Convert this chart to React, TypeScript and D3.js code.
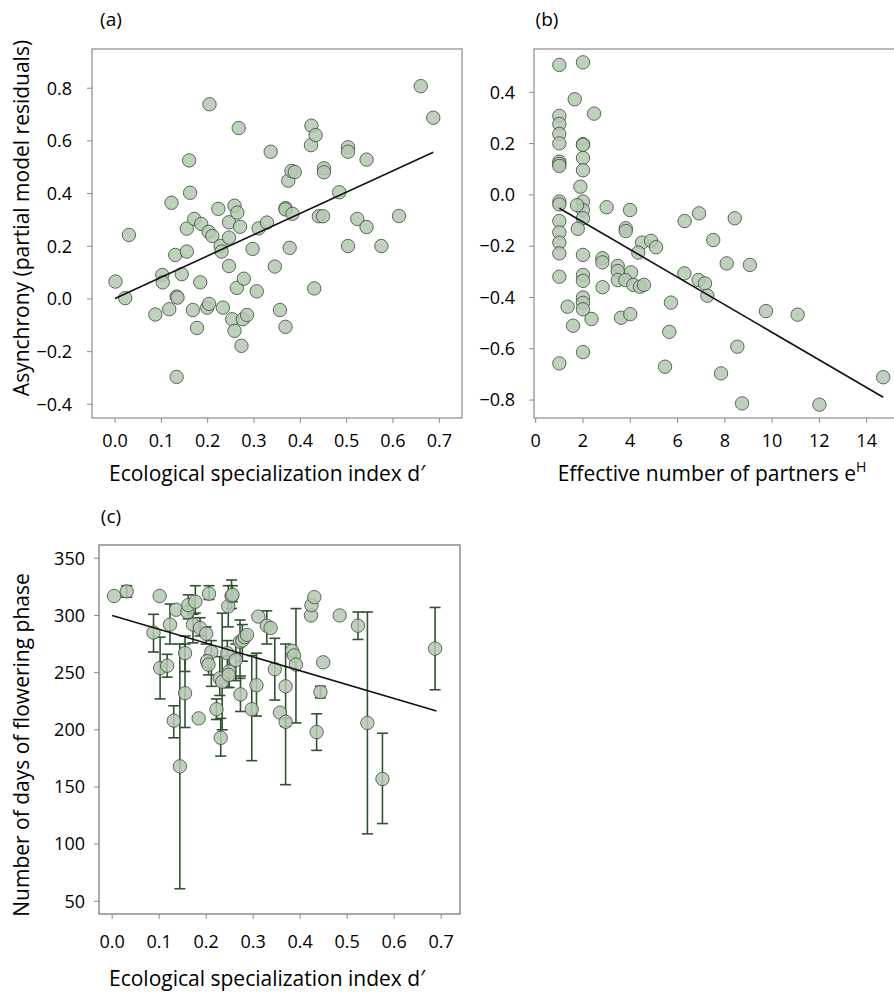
import React from 'react';
import * as d3 from 'd3';

// panel (a): specialization d' vs asynchrony residuals
const aSpec = [0.001, 0.022, 0.030, 0.087, 0.102, 0.103, 0.117, 0.122, 0.130, 0.133, 0.135, 0.133, 0.144, 0.155, 0.155, 0.160, 0.162, 0.168, 0.171, 0.177, 0.184, 0.186, 0.199, 0.203, 0.202, 0.204, 0.210, 0.223, 0.228, 0.230, 0.233, 0.246, 0.246, 0.246, 0.253, 0.258, 0.258, 0.263, 0.264, 0.267, 0.270, 0.273, 0.276, 0.278, 0.285, 0.297, 0.306, 0.310, 0.328, 0.336, 0.345, 0.356, 0.368, 0.368, 0.368, 0.374, 0.377, 0.381, 0.383, 0.388, 0.423, 0.424, 0.430, 0.433, 0.440, 0.449, 0.451, 0.451, 0.484, 0.503, 0.503, 0.503, 0.523, 0.543, 0.543, 0.575, 0.613, 0.660, 0.687];
const aAsync = [0.066, 0.003, 0.243, -0.059, 0.091, 0.063, -0.039, 0.365, 0.167, 0.009, 0.005, -0.296, 0.094, 0.180, 0.267, 0.526, 0.403, -0.042, 0.304, -0.110, 0.063, 0.285, -0.033, -0.019, 0.255, 0.739, 0.239, 0.342, 0.201, 0.180, -0.033, 0.125, 0.233, 0.291, -0.077, 0.354, -0.121, 0.042, 0.328, 0.649, 0.274, -0.178, -0.077, 0.077, -0.061, 0.190, 0.029, 0.268, 0.290, 0.559, 0.123, -0.042, 0.345, -0.106, 0.340, 0.449, 0.194, 0.486, 0.323, 0.482, 0.584, 0.658, 0.040, 0.622, 0.314, 0.314, 0.496, 0.481, 0.405, 0.576, 0.559, 0.201, 0.304, 0.529, 0.273, 0.201, 0.315, 0.808, 0.688];
const aFitX = [0, 0.687];
const aFitY = [0.002, 0.557];

// panel (b): effective number of partners vs asynchrony residuals
const bPartners = [1, 1, 1, 1, 1, 1, 1, 1, 1, 1, 1, 1, 1, 1, 1, 1,
  2, 2, 2, 2, 2, 2, 2, 2, 2, 2, 2, 2, 2, 2, 2,
  1.89, 1.75, 1.78, 1.65, 2.47, 3.0, 3.99, 3.81, 3.81, 6.30, 6.91, 8.42, 7.51, 4.50, 4.88, 5.09, 4.34, 2.82, 2.82, 3.47, 3.47, 3.47, 4.03, 3.79, 4.13, 4.41, 4.58, 2.83, 6.29, 6.89, 7.16, 7.26, 8.08, 9.06, 5.72, 5.65, 3.61, 4.00, 1.35, 1.58, 2.36, 9.74, 11.08, 8.53, 5.47, 7.84, 8.73, 12.0, 14.7];
const bAsync = [0.507, 0.308, 0.277, 0.238, 0.201, 0.130, 0.121, 0.113, -0.026, -0.037, -0.102, -0.146, -0.186, -0.228, -0.319, -0.657,
  0.517, 0.198, 0.195, 0.144, 0.096, -0.026, -0.059, -0.091, -0.234, -0.312, -0.335, -0.400, -0.421, -0.446, -0.613,
  0.032, -0.040, -0.132, 0.373, 0.317, -0.048, -0.059, -0.130, -0.141, -0.102, -0.072, -0.091, -0.176, -0.186, -0.179, -0.204, -0.225, -0.247, -0.263, -0.277, -0.297, -0.332, -0.302, -0.332, -0.351, -0.358, -0.351, -0.360, -0.306, -0.332, -0.345, -0.393, -0.267, -0.273, -0.420, -0.534, -0.479, -0.465, -0.436, -0.510, -0.484, -0.453, -0.467, -0.592, -0.670, -0.696, -0.813, -0.818, -0.711];
const bFitX = [1, 14.7];
const bFitY = [-0.052, -0.789];

// panel (c): specialization d' vs flowering days, with error bars (null = none)
const cSpec = [0.004, 0.031, 0.101, 0.088, 0.102, 0.117, 0.123, 0.136, 0.131, 0.144, 0.155, 0.155, 0.160, 0.162, 0.177, 0.172, 0.187, 0.200, 0.184, 0.206, 0.211, 0.202, 0.205, 0.229, 0.234, 0.222, 0.231, 0.247, 0.254, 0.256, 0.245, 0.249, 0.248, 0.263, 0.272, 0.277, 0.282, 0.287, 0.273, 0.297, 0.307, 0.311, 0.329, 0.337, 0.346, 0.357, 0.369, 0.369, 0.383, 0.387, 0.391, 0.423, 0.424, 0.430, 0.449, 0.443, 0.435, 0.484, 0.523, 0.543, 0.575, 0.687];
const cDays = [317, 321, 317, 285, 254, 256, 292, 305, 208, 168, 232, 267, 303, 309, 312, 292, 289, 284, 210, 319, 268, 260, 257, 245, 242, 218, 193, 308, 317, 318, 267, 251, 248, 261, 277, 278, 281, 283, 231, 218, 239, 299, 291, 289, 253, 215, 238, 207, 269, 265, 257, 300, 309, 316, 259, 233, 198, 300, 291, 206, 157, 271];
const cLow = [null, 316, null, 268, 227, 246, 275, null, 193, 61, 202, 251, null, 297, 302, 276, 282, 275, null, 314, 238, null, 248, 230, 200, 209, 177, 290, 306, 312, 237, 237, null, 243, 245, 260, null, null, 216, 173, 212, null, 275, null, 226, null, 152, 203, null, null, 206, null, null, null, null, 228, 182, null, 279, 109, 118, 235];
const cHigh = [null, 326, null, 301, 281, 266, 310, null, 221, 275, 275, 282, null, 318, 326, 301, 298, 290, null, 326, 278, null, 265, 264, 302, 227, 210, 326, 331, 326, 278, 265, null, 275, 296, 292, null, null, 247, 265, 267, null, 304, null, 280, null, 275, 210, null, null, 306, null, null, null, null, 238, 214, null, 303, 303, 197, 307];
const cFitX = [0, 0.69];
const cFitY = [300, 216.5];

const xTicksD = [0, 0.1, 0.2, 0.3, 0.4, 0.5, 0.6, 0.7];
const yTicksA = [-0.4, -0.2, 0, 0.2, 0.4, 0.6, 0.8];
const xTicksB = [0, 2, 4, 6, 8, 10, 12, 14];
const yTicksB = [-0.8, -0.6, -0.4, -0.2, 0, 0.2, 0.4];
const yTicksC = [50, 100, 150, 200, 250, 300, 350];

const FONT = "'Open Sans', 'DejaVu Sans', sans-serif";
const FILL = '#b4c8b1';
const EDGE = '#3a4a3a';
const BAR = '#2f532f';
const FRAME = '#8a8a8a';

type Box = { l: number; t: number; r: number; b: number };
type Scale = d3.ScaleLinear<number, number>;

function Frame({ box, color = FRAME }: { box: Box; color?: string }) {
  return <rect x={box.l} y={box.t} width={box.r - box.l} height={box.b - box.t} fill="none" stroke={color} strokeWidth={1.2} />;
}

function XAxis({ box, x, ticks, fmt, off }: { box: Box; x: Scale; ticks: number[]; fmt: (v: number) => string; off: number }) {
  return (
    <g>
      {ticks.map((t) => (
        <g key={t}>
          <line x1={x(t)} x2={x(t)} y1={box.b} y2={box.b + 5} stroke={FRAME} strokeWidth={1} />
          <text x={x(t)} y={box.b + off} textAnchor="middle" fontSize={18} fontFamily={FONT}>{fmt(t)}</text>
        </g>
      ))}
    </g>
  );
}

function YAxis({ box, y, ticks, fmt, off }: { box: Box; y: Scale; ticks: number[]; fmt: (v: number) => string; off: number }) {
  return (
    <g>
      {ticks.map((t) => (
        <g key={t}>
          <line x1={box.l - 5} x2={box.l} y1={y(t)} y2={y(t)} stroke={FRAME} strokeWidth={1} />
          <text x={box.l - off} y={y(t)} dy="0.35em" textAnchor="end" fontSize={18} fontFamily={FONT}>{fmt(t)}</text>
        </g>
      ))}
    </g>
  );
}

function Dots({ xs, ys, x, y }: { xs: number[]; ys: number[]; x: Scale; y: Scale }) {
  return (
    <g>
      {xs.map((v, i) => (
        <circle key={i} cx={x(v)} cy={y(ys[i])} r={6.7} fill={FILL} fillOpacity={0.85} stroke={EDGE} strokeWidth={0.8} />
      ))}
    </g>
  );
}

function Fit({ fx, fy, x, y }: { fx: number[]; fy: number[]; x: Scale; y: Scale }) {
  const line = d3.line<number>().x((v) => x(v)).y((_, i) => y(fy[i]));
  return <path d={line(fx) || ''} fill="none" stroke="#111" strokeWidth={1.6} />;
}

const fmt1 = (v: number) => (v < 0 ? '\u2212' : '') + Math.abs(v).toFixed(1);
const fmt0 = (v: number) => String(v);

export default function App() {
  const boxA: Box = { l: 92, t: 49, r: 462, b: 418 };
  const boxB: Box = { l: 534, t: 49, r: 900, b: 418 };
  const boxC: Box = { l: 99, t: 545, r: 460, b: 914 };

  const xA = d3.scaleLinear().domain([-0.0497, 0.749]).range([boxA.l, boxA.r]);
  const yA = d3.scaleLinear().domain([-0.452, 0.949]).range([boxA.b, boxA.t]);
  const xB = d3.scaleLinear().domain([-0.072, 15.41]).range([boxB.l, boxB.r]);
  const yB = d3.scaleLinear().domain([-0.870, 0.569]).range([boxB.b, boxB.t]);
  const xC = d3.scaleLinear().domain([-0.028, 0.74]).range([boxC.l, boxC.r]);
  const yC = d3.scaleLinear().domain([38.9, 361.6]).range([boxC.b, boxC.t]);

  return (
    <svg width={894} height={994} style={{ position: 'absolute', left: 0, top: 0, background: '#fff' }}>
      <rect width={894} height={994} fill="#fff" />
      {/* panel a */}
      <text x={111} y={26} textAnchor="middle" fontSize={19} fontFamily={FONT}>(a)</text>
      <Frame box={boxA} />
      <XAxis box={boxA} x={xA} ticks={xTicksD} fmt={fmt1} off={29} />
      <YAxis box={boxA} y={yA} ticks={yTicksA} fmt={fmt1} off={20} />
      <Dots xs={aSpec} ys={aAsync} x={xA} y={yA} />
      <Fit fx={aFitX} fy={aFitY} x={xA} y={yA} />
      <text x={267} y={481} textAnchor="middle" fontSize={21} fontFamily={FONT}>Ecological specialization index d′</text>
      <text transform="translate(29,218) rotate(-90)" textAnchor="middle" fontSize={21} fontFamily={FONT}>Asynchrony (partial model residuals)</text>

      {/* panel b */}
      <text x={547} y={26} textAnchor="middle" fontSize={19} fontFamily={FONT}>(b)</text>
      <Frame box={boxB} />
      <XAxis box={boxB} x={xB} ticks={xTicksB} fmt={fmt0} off={29} />
      <YAxis box={boxB} y={yB} ticks={yTicksB} fmt={fmt1} off={19} />
      <Dots xs={bPartners} ys={bAsync} x={xB} y={yB} />
      <Fit fx={bFitX} fy={bFitY} x={xB} y={yB} />
      <text x={712} y={481} textAnchor="middle" fontSize={21} fontFamily={FONT}>
        Effective number of partners e<tspan fontSize={14} dy={-9}>H</tspan>
      </text>

      {/* panel c */}
      <text x={111} y={523} textAnchor="middle" fontSize={19} fontFamily={FONT}>(c)</text>
      <Frame box={boxC} color="#6f6f6f" />
      <XAxis box={boxC} x={xC} ticks={xTicksD} fmt={fmt1} off={34} />
      <YAxis box={boxC} y={yC} ticks={yTicksC} fmt={fmt0} off={14} />
      <g>
        {cSpec.map((v, i) => {
          const lo = cLow[i];
          const hi = cHigh[i];
          if (lo == null || hi == null) return null;
          const cx = xC(v);
          return (
            <g key={i} stroke={BAR} strokeWidth={1.6}>
              <line x1={cx} x2={cx} y1={yC(lo)} y2={yC(hi)} />
              <line x1={cx - 5.5} x2={cx + 5.5} y1={yC(lo)} y2={yC(lo)} />
              <line x1={cx - 5.5} x2={cx + 5.5} y1={yC(hi)} y2={yC(hi)} />
            </g>
          );
        })}
      </g>
      <Dots xs={cSpec} ys={cDays} x={xC} y={yC} />
      <Fit fx={cFitX} fy={cFitY} x={xC} y={yC} />
      <text x={267} y={986} textAnchor="middle" fontSize={21} fontFamily={FONT}>Ecological specialization index d′</text>
      <text transform="translate(29,745) rotate(-90)" textAnchor="middle" fontSize={21} fontFamily={FONT}>Number of days of flowering phase</text>
    </svg>
  );
}
